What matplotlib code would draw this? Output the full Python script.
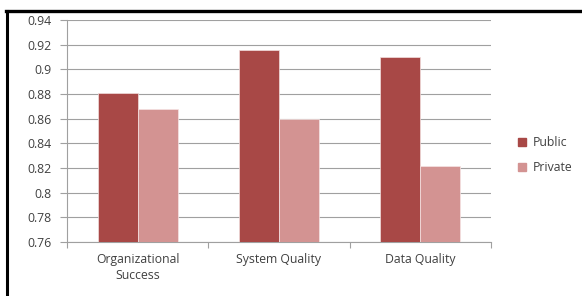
import numpy as np
from matplotlib import pyplot as plt
from matplotlib.lines import Line2D

categories = ["Organizational\nSuccess", "System Quality", "Data Quality"]
public = [0.881, 0.916, 0.910]
private = [0.868, 0.860, 0.822]
yticks = [0.76, 0.78, 0.80, 0.82, 0.84, 0.86, 0.88, 0.90, 0.92, 0.94]

c_pub = "#a84846"
c_priv = "#d39392"
txt = "#404040"

plt.rcParams['font.family'] = ['Open Sans', 'DejaVu Sans']

fig = plt.figure(figsize=(5.82, 2.96), dpi=100)
ax = fig.add_axes([67/582, 1-242/296, (491-67)/582, (242-20)/296])

x = np.arange(len(categories))
w = 0.283
ax.bar(x - w/2, public, w, color=c_pub, edgecolor="#f2dede", linewidth=0.5, label="Public", zorder=3)
ax.bar(x + w/2, private, w, color=c_priv, edgecolor="#f6e4e4", linewidth=0.5, label="Private", zorder=3)

ax.set_ylim(0.76, 0.94)
ax.set_xlim(-0.5, 2.5)
ax.set_yticks(yticks)
ax.set_yticklabels(["%g" % round(v, 2) for v in yticks])
ax.yaxis.grid(True, color="#a0a0a0", linewidth=0.8, zorder=0)

ax.set_xticks(x)
ax.set_xticklabels(categories)
ax.set_xticks([-0.5, 0.5, 1.5, 2.5], minor=True)
ax.tick_params(axis="x", which="major", length=0, pad=8, labelsize=8.8, colors=txt)
ax.tick_params(axis="x", which="minor", length=4, color="#a0a0a0", width=0.8)
ax.tick_params(axis="y", length=5, color="#a0a0a0", width=0.8, pad=6, labelsize=8.8, colors=txt)
for lab in ax.get_xticklabels():
    lab.set_linespacing(1.25)

for s in ["top", "right"]:
    ax.spines[s].set_visible(False)
for s in ["left", "bottom"]:
    ax.spines[s].set_color("#a0a0a0")
    ax.spines[s].set_linewidth(0.8)

# legend
handles = [Line2D([], [], marker="s", linestyle="none", markersize=6, color=c_pub),
           Line2D([], [], marker="s", linestyle="none", markersize=6, color=c_priv)]
fig.legend(handles, ["Public", "Private"], loc="center left",
           bbox_to_anchor=(507/582, 1-155/296), frameon=False, fontsize=8.8,
           handlelength=0.7, handletextpad=0.5, labelspacing=1.0, labelcolor=txt)

# black frame on top and left
fig.add_artist(Line2D([6/582, 1], [1-11/296, 1-11/296], color="black", linewidth=2.4, transform=fig.transFigure))
fig.add_artist(Line2D([7/582, 7/582], [0, 1-11/296], color="black", linewidth=2.2, transform=fig.transFigure))

fig.savefig("out.png", dpi=100)
